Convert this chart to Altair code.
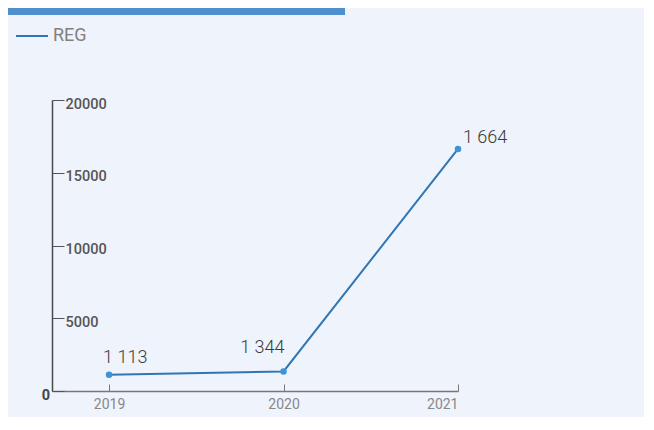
import altair as alt
import pandas as pd

years = [2019, 2020, 2021]
values = [1113, 1344, 16640]
value_labels = ["1 113", "1 344", "1 664"]
series_name = "REG"
y_ticks = [0, 5000, 10000, 15000, 20000]

df = pd.DataFrame({"year": years, "value": values, "label": value_labels,
                   "series": [series_name] * len(years)})

FONT = "Roboto"
x_scale = alt.Scale(domain=[2018.673, 2021], nice=False, zero=False)
y_scale = alt.Scale(domain=[0, 20000], nice=False)

base = alt.Chart(df)

line = base.mark_line(strokeWidth=2).encode(
    x=alt.X("year:Q", scale=x_scale,
            axis=alt.Axis(orient="top", offset=-291, values=years, format="d",
                          title=None, grid=False, domainColor="#777777",
                          domainWidth=1.5, tickColor="#777777", tickSize=7,
                          labelPadding=-13, labelBaseline="top",
                          labelColor="#888888", labelFontSize=14,
                          labelFont=FONT)),
    y=alt.Y("value:Q", scale=y_scale,
            axis=alt.Axis(orient="right", offset=-406, values=y_ticks,
                          format="d", title=None, grid=False,
                          domainColor="#4a4a4a", domainWidth=1.5,
                          tickColor="#555555", tickSize=12,
                          labelPadding=1, labelBaseline="middle", labelOffset=4,
                          labelExpr="datum.value == 0 ? '' : datum.label",
                          labelColor="#555555", labelFontSize=14.5,
                          labelFontWeight=500, labelFont=FONT)),
    color=alt.Color("series:N", scale=alt.Scale(range=["#3076b4"]),
                    legend=alt.Legend(orient="none", legendX=-37, legendY=-81,
                                      title=None, symbolType="stroke",
                                      symbolSize=1024, symbolStrokeWidth=2,
                                      symbolStrokeColor="#3a8fd0",
                                      labelFontSize=18, labelColor="#808080",
                                      labelFont=FONT, labelOffset=4, padding=0)),
)

points = base.mark_circle(size=42, color="#3c94d6", opacity=1).encode(
    x=alt.X("year:Q", scale=x_scale),
    y=alt.Y("value:Q", scale=y_scale),
)

def label_layer(year, align, dx, dy):
    return base.transform_filter(alt.datum.year == year).mark_text(
        align=align, dx=dx, dy=dy, baseline="alphabetic", fontSize=18,
        fontWeight=300, color="#3a3a3a", font=FONT
    ).encode(x=alt.X("year:Q", scale=x_scale),
             y=alt.Y("value:Q", scale=y_scale), text="label:N")

labels = [label_layer(2019, "left", -6, -12),
          label_layer(2020, "right", 1, -18),
          label_layer(2021, "left", 5, -6)]

zero_df = pd.DataFrame({"v": [0], "t": ["0"]})
zero_label = alt.Chart(zero_df).mark_text(
    align="right", baseline="top", dy=-2, fontSize=14.5, fontWeight="bold",
    color="#444444", font=FONT
).encode(x=alt.value(-2), y=alt.Y("v:Q", scale=y_scale), text="t:N")

bar_df = pd.DataFrame({"a": [0]})
header = alt.Chart(bar_df).mark_rect(color="#4f8fcd").encode(
    x=alt.value(-44), x2=alt.value(293), y=alt.value(-92), y2=alt.value(-85)
)

chart = alt.layer(header, line, points, *labels, zero_label).properties(
    width=406, height=291,
    autosize=alt.AutoSizeParams(type="none"),
    padding={"left": 44, "top": 92, "right": 186, "bottom": 26},
    background="#eff3fb",
).configure_view(stroke=None)

chart.save("out.html", embed_options={"renderer": "svg", "actions": False})
